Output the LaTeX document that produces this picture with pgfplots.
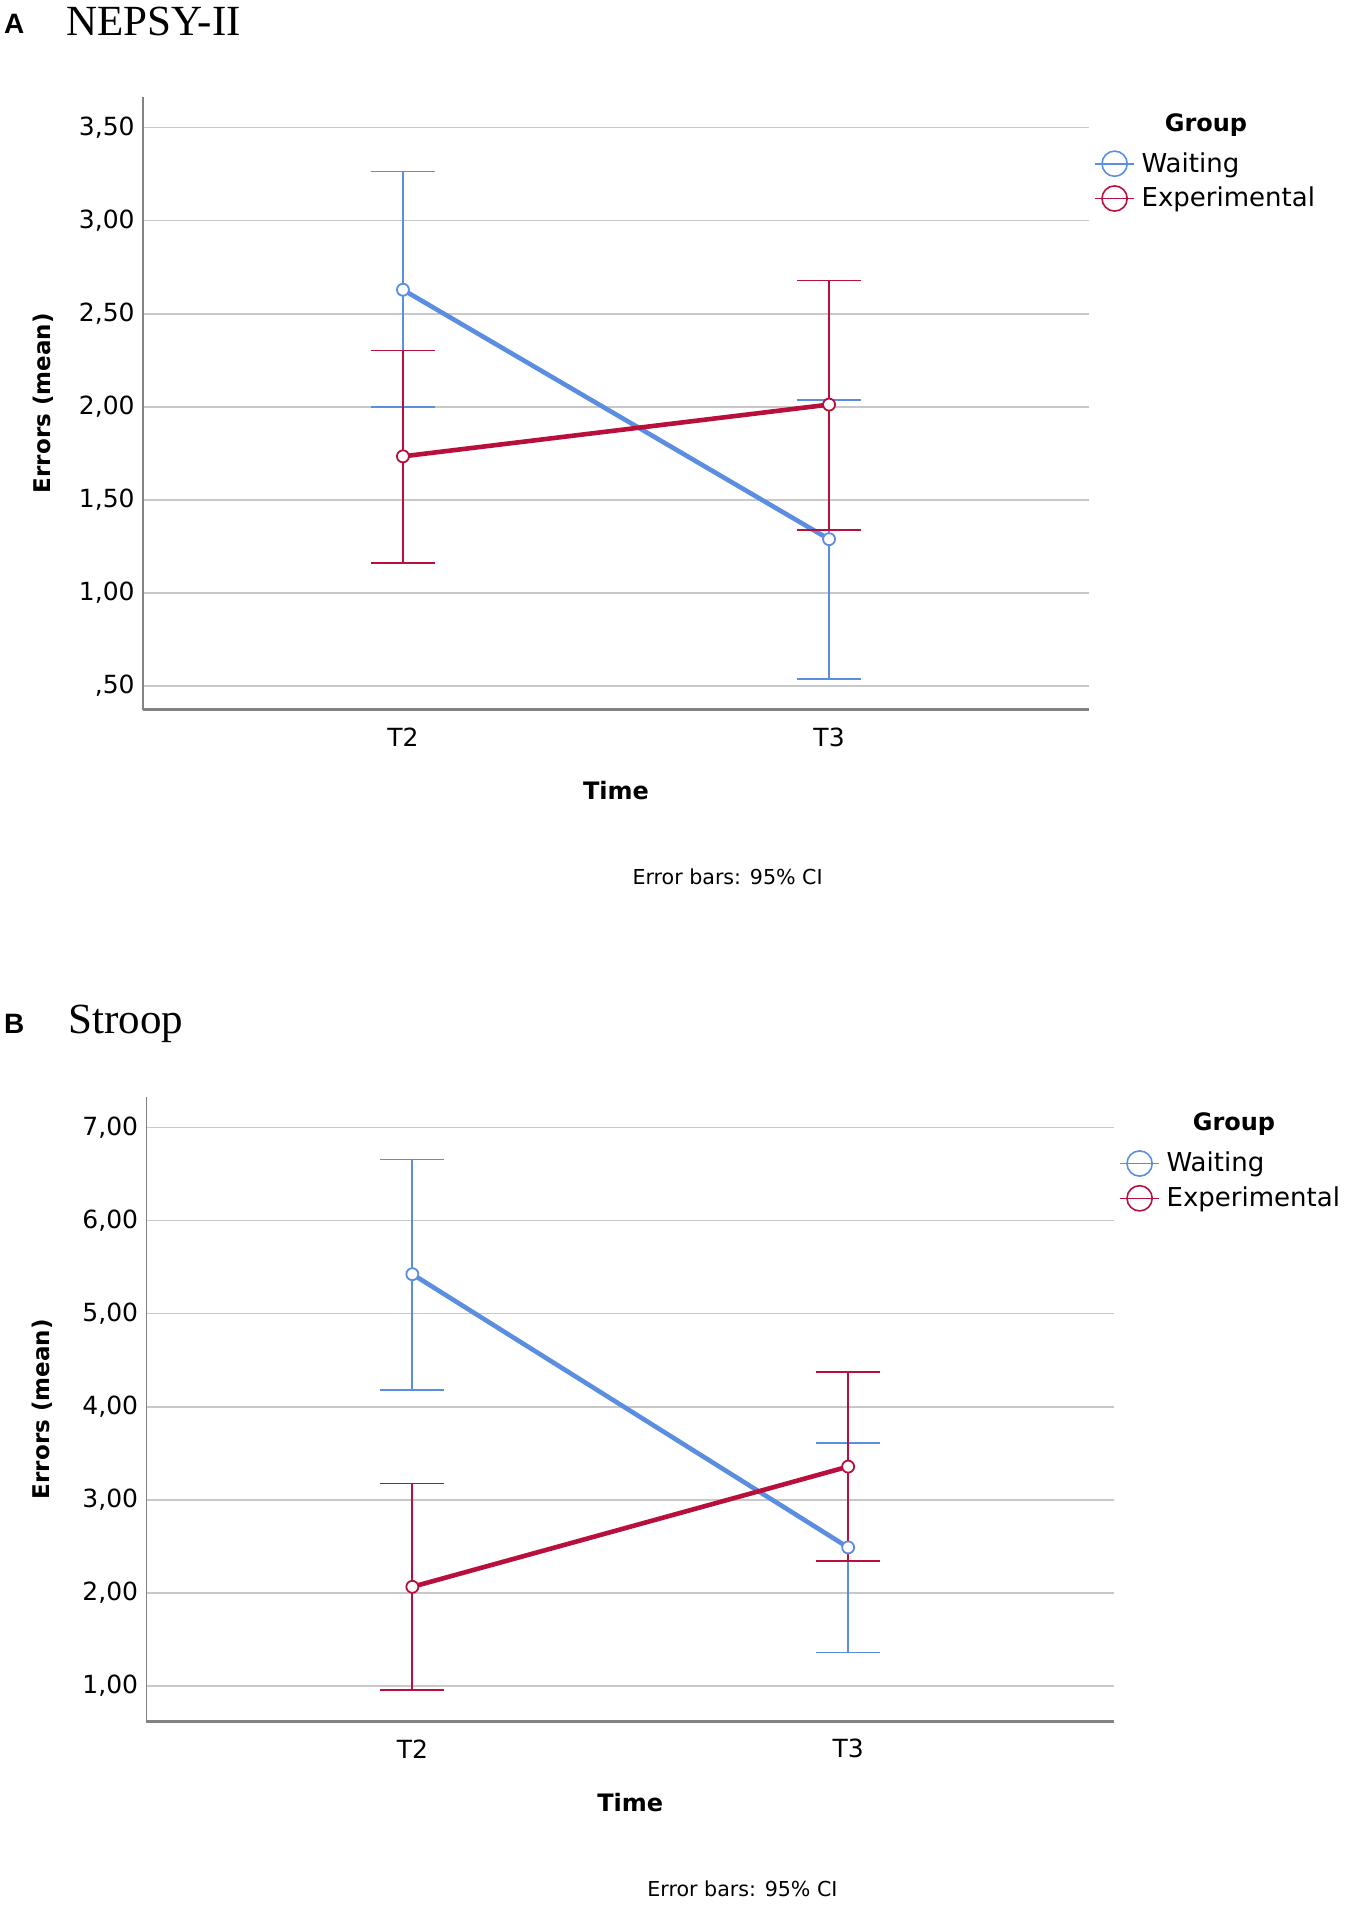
\documentclass[border=0pt]{standalone}
\usepackage{fontspec}
\setmainfont{DejaVu Sans}
\newfontfamily\seriffont{Liberation Serif}
\newfontfamily\panelfont{Liberation Sans}
\usepackage{pgfplots}
\usepackage{pgfplotstable}
\pgfplotsset{compat=1.18}
\definecolor{wblue}{RGB}{91,141,224}
\definecolor{ered}{RGB}{185,15,60}
\definecolor{gridgray}{RGB}{200,200,200}
\definecolor{axgray}{RGB}{130,130,130}

% x: 1 = T2, 2 = T3 ; y = mean ; ep/em = distance to upper/lower 95% CI limit
\pgfplotstableread{
x y ep em
1 2.629 0.635 0.630
2 1.289 0.749 0.751
}\waitA
\pgfplotstableread{
x y ep em
1 1.734 0.569 0.573
2 2.012 0.667 0.674
}\expA
\pgfplotstableread{
x y ep em
1 5.424 1.232 1.246
2 2.489 1.123 1.128
}\waitB
\pgfplotstableread{
x y ep em
1 2.066 1.110 1.110
2 3.357 1.017 1.012
}\expB

\pgfplotsset{
  spss/.style={
    scale only axis, clip=false,
    axis x line*=bottom, axis y line*=left,
    axis line style={draw=axgray, line width=0.8pt},
    x axis line style={line width=1.3pt},
    major tick length=0pt,
    ymajorgrids, major grid style={draw=gridgray, line width=0.8pt},
    xmin=0.39, xmax=2.61,
    xtick={1,2}, xticklabels={T2,T3},
    xticklabel style={font=\fontsize{12.5}{15}\selectfont, anchor=center, yshift=-14pt},
    yticklabel style={font=\fontsize{12.5}{15}\selectfont, anchor=east, inner sep=0pt, xshift=-4pt},
    xlabel={Time}, ylabel={Errors (mean)},
    every axis x label/.style={at={(axis description cs:0.5,0)}, yshift=-40.5pt, anchor=center, font=\bfseries\fontsize{12}{14}\selectfont},
    legend style={at={(1,1)}, anchor=north west, xshift=2.5pt, yshift=-26.7pt,
      draw=none, fill=none, inner sep=0pt, outer sep=0pt, row sep=1.4pt, column sep=3.2pt,
      nodes={inner sep=0pt}, font=\fontsize{13}{15}\selectfont},
    legend cell align=left,
  },
  blueline/.style={color=wblue, line width=2.3pt, mark=*, mark size=3pt,
    mark options={solid, fill=white, line width=0.9pt}, forget plot,
    error bars/.cd, y dir=both, y explicit,
    error bar style={line width=0.9pt, wblue},
    error mark options={rotate=90, line width=0.9pt, mark size=16pt, wblue}},
  redline/.style={color=ered, line width=2.3pt, mark=*, mark size=3pt,
    mark options={solid, fill=white, line width=0.9pt}, forget plot,
    error bars/.cd, y dir=both, y explicit,
    error bar style={line width=0.9pt, ered},
    error mark options={rotate=90, line width=0.9pt, mark size=16pt, ered}},
  legblue/.style={legend image code/.code={
    \path[draw=none, fill=none] (0pt,-9.3pt) rectangle (0.1pt,6.3pt);
    \draw[wblue, line width=0.8pt] (0pt,0pt) -- (19.8pt,0pt);
    \draw[wblue, line width=0.8pt] (9.9pt,0pt) circle[radius=6.3pt];}},
  legred/.style={legend image code/.code={
    \path[draw=none, fill=none] (0pt,-9.3pt) rectangle (0.1pt,6.3pt);
    \draw[ered, line width=0.8pt] (0pt,0pt) -- (19.8pt,0pt);
    \draw[ered, line width=0.8pt] (9.9pt,0pt) circle[radius=6.3pt];}},
}

\begin{document}
\begin{tikzpicture}
\useasboundingbox (0pt,0pt) rectangle (675pt,-953pt);

\node[anchor=base west, inner sep=0pt, font=\panelfont\bfseries\fontsize{14}{16}\selectfont] at (1.8pt,-16.5pt) {A};
\node[anchor=base west, inner sep=0pt, font=\seriffont\fontsize{21.5}{24}\selectfont] at (33pt,-17.5pt) {NEPSY-II};
\node[anchor=base west, inner sep=0pt, font=\panelfont\bfseries\fontsize{14}{16}\selectfont] at (1.8pt,-516.5pt) {B};
\node[anchor=base west, inner sep=0pt, font=\seriffont\fontsize{21.5}{24}\selectfont] at (34pt,-516.5pt) {Stroop};

% Panel A
\begin{axis}[spss, at={(71.5pt,-354.75pt)}, anchor=south west,
  width=473pt, height=306.3pt,
  ymin=0.374, ymax=3.665,
  ytick={0.5,1,1.5,2,2.5,3,3.5},
  yticklabels={{,50},{1,00},{1,50},{2,00},{2,50},{3,00},{3,50}},
  every axis y label/.style={at={(axis description cs:-0.1057,0.5)}, rotate=90, anchor=center, font=\bfseries\fontsize{11.5}{14}\selectfont},
]
\addlegendimage{legblue}\addlegendentry{Waiting}
\addlegendimage{legred}\addlegendentry{Experimental}
\addplot[blueline] table[x=x, y=y, y error plus=ep, y error minus=em]{\waitA};
\addplot[redline] table[x=x, y=y, y error plus=ep, y error minus=em]{\expA};
\node[font=\bfseries\fontsize{12}{14}\selectfont] at (rel axis cs:1,1) [xshift=58.5pt, yshift=-14.1pt] {Group};
\node[font=\fontsize{10.3}{12}\selectfont] at (rel axis cs:0.618,0) [yshift=-83.5pt] {Error bars: 95\% CI};
\end{axis}

% Panel B
\begin{axis}[spss, at={(73.25pt,-860.85pt)}, anchor=south west,
  width=483.75pt, height=312.5pt,
  ymin=0.617, ymax=7.33,
  ytick={1,2,3,4,5,6,7},
  yticklabels={{1,00},{2,00},{3,00},{4,00},{5,00},{6,00},{7,00}},
  every axis y label/.style={at={(axis description cs:-0.1075,0.5)}, rotate=90, anchor=center, font=\bfseries\fontsize{11.5}{14}\selectfont},
  xticklabel style={yshift=0.5pt},
]
\addlegendimage{legblue}\addlegendentry{Waiting}
\addlegendimage{legred}\addlegendentry{Experimental}
\addplot[blueline] table[x=x, y=y, y error plus=ep, y error minus=em]{\waitB};
\addplot[redline] table[x=x, y=y, y error plus=ep, y error minus=em]{\expB};
\node[font=\bfseries\fontsize{12}{14}\selectfont] at (rel axis cs:1,1) [xshift=60pt, yshift=-13.8pt] {Group};
\node[font=\fontsize{10.3}{12}\selectfont] at (rel axis cs:0.616,0) [yshift=-83.7pt] {Error bars: 95\% CI};
\end{axis}
\end{tikzpicture}
\end{document}
